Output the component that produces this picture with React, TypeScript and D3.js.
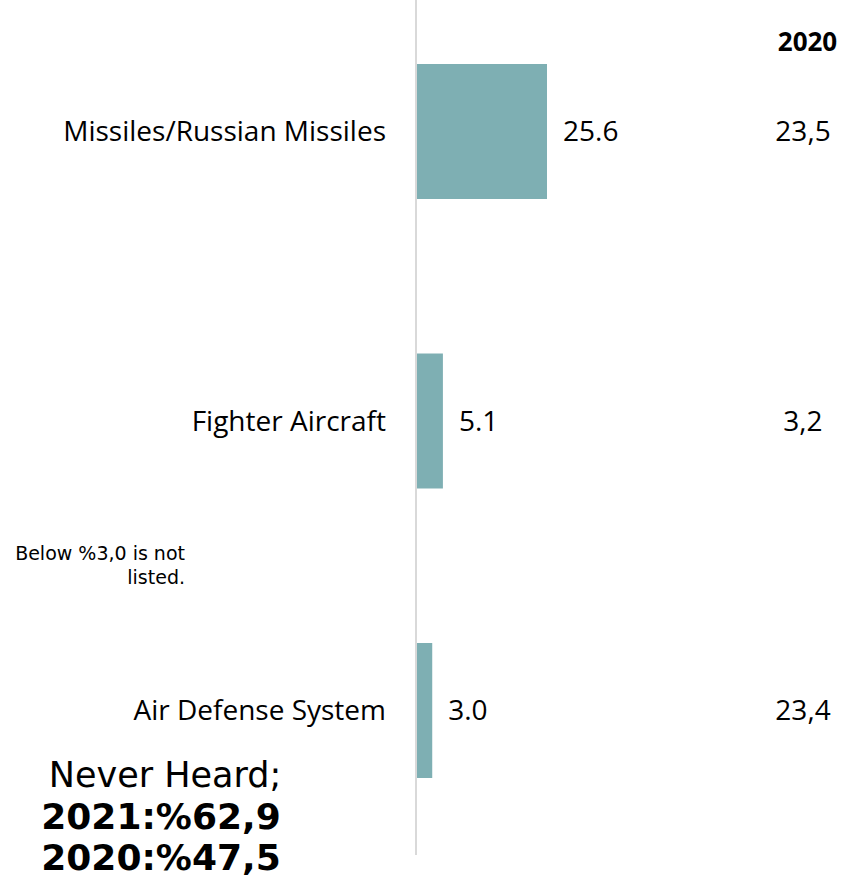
import React from "react";
import * as d3 from "d3";

const categories = ["Missiles/Russian Missiles", "Fighter Aircraft", "Air Defense System"];
const values2021 = [25.6, 5.1, 3.0];
const values2020 = ["23,5", "3,2", "23,4"];
const header2020 = "2020";
const footnoteLines = ["Below %3,0 is not", "listed."];
const neverHeardLines = ["Never Heard;", "2021:%62,9", "2020:%47,5"];

const W = 848;
const H = 879;

export default function App() {
  const x = d3.scaleLinear().domain([0, 25.6]).range([417, 547]);
  const y = d3
    .scaleBand<string>()
    .domain(categories)
    .range([-13.25, 855.25])
    .paddingInner(0.5337)
    .paddingOuter(0.26685);
  const labelFont = "'Open Sans', sans-serif";
  const vFont = "'DejaVu Sans', Verdana, sans-serif";
  return (
    <div style={{ position: "absolute", left: 0, top: 0 }}>
      <svg width={W} height={H} style={{ display: "block", background: "#fff" }}>
        <line x1={416} x2={416} y1={0} y2={855} stroke="#d9d9d9" strokeWidth={2} />
        {categories.map((c, i) => {
          const yy = y(c)!;
          const cy = yy + y.bandwidth() / 2;
          return (
            <g key={c}>
              <rect x={x(0)} y={yy} width={x(values2021[i]) - x(0)} height={y.bandwidth()} fill="#7eafb3" />
              <text x={386} y={cy} dy="0.35em" textAnchor="end" fontFamily={labelFont} fontSize={28} fill="#000">
                {c}
              </text>
              <text x={x(values2021[i]) + 16} y={cy} dy="0.35em" fontFamily={labelFont} fontSize={28} fill="#000">
                {values2021[i].toFixed(1)}
              </text>
              <text x={803} y={cy} dy="0.35em" textAnchor="middle" fontFamily={labelFont} fontSize={28} fill="#000">
                {values2020[i]}
              </text>
            </g>
          );
        })}
        <text x={807.5} y={42} dy="0.35em" textAnchor="middle" fontFamily={labelFont} fontSize={26} fontWeight="bold" fill="#000">
          {header2020}
        </text>
        {footnoteLines.map((t, i) => (
          <text key={t} x={185} y={553 + i * 24} dy="0.35em" textAnchor="end" fontFamily={vFont} fontSize={19} fill="#000">
            {t}
          </text>
        ))}
        {neverHeardLines.map((t, i) => (
          <text
            key={t}
            x={i === 0 ? 165 : 161}
            y={775 + i * 41}
            dy="0.35em"
            textAnchor="middle"
            fontFamily={vFont}
            fontSize={i === 0 ? 35 : 36}
            fontWeight={i === 0 ? "normal" : "bold"}
            fill="#000"
          >
            {t}
          </text>
        ))}
      </svg>
    </div>
  );
}
